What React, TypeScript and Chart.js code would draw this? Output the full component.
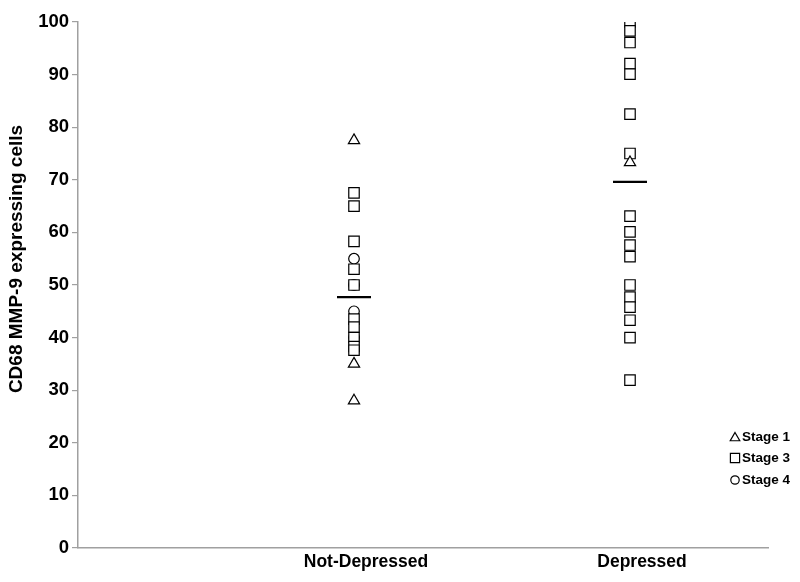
import React, { useEffect, useRef } from "react";
import { Chart, registerables } from "chart.js";
import { drawPoint } from "chart.js/helpers";

Chart.register(...registerables);

const categories = ["Not-Depressed", "Depressed"];
const categoryX = [1, 2];

const stage1NotDepressed = [77.5, 35, 28];
const stage1Depressed = [73.3];

const stage3NotDepressed = [67.5, 65, 58.3, 53, 50, 43.5, 42, 40, 38.3, 37.6];
const stage3Depressed = [100, 98.3, 96.1, 92.1, 90.1, 82.5, 75, 63.1, 60.1, 57.6, 55.4, 50, 47.7, 45.8, 43.3, 40, 31.9];

const stage4NotDepressed = [55, 50, 45, 40];
const stage4Depressed: number[] = [];

const meanValues = [47.7, 69.6];

const yTicks = [0, 10, 20, 30, 40, 50, 60, 70, 80, 90, 100];

const yTitle = "CD68 MMP-9 expressing cells";

const FONT = "'Liberation Sans', Arial, sans-serif";

function pts(x: number, vals: number[]) {
  return vals.map((v) => ({ x, y: v }));
}

const legendPlugin = {
  id: "customLegend",
  afterDraw(chart: any) {
    const ctx = chart.ctx;
    const items = [
      { label: "Stage 1", style: "triangle", r: 5.5, y: 437 },
      { label: "Stage 3", style: "rect", r: 6.5, y: 458 },
      { label: "Stage 4", style: "circle", r: 4.2, y: 480 },
    ];
    ctx.save();
    for (const it of items) {
      ctx.strokeStyle = "#000";
      ctx.fillStyle = "#fff";
      ctx.lineWidth = 1.2;
      drawPoint(ctx, { pointStyle: it.style, radius: it.r, rotation: 0, borderWidth: 1.2 } as any, 735, it.y + (it.style === "triangle" ? 1 : 0));
      ctx.fillStyle = "#000";
      ctx.font = `bold 13.5px ${FONT}`;
      ctx.textAlign = "left";
      ctx.textBaseline = "middle";
      ctx.fillText(it.label, 742, it.y);
    }
    // y-axis title (placed like the original, slightly above the axis centre)
    ctx.translate(17, 259);
    ctx.rotate(-Math.PI / 2);
    ctx.font = `bold 19px ${FONT}`;
    ctx.textAlign = "center";
    ctx.textBaseline = "middle";
    ctx.fillText(yTitle, 0, 0);
    ctx.restore();
  },
};

export default function App() {
  const ref = useRef<HTMLCanvasElement | null>(null);
  useEffect(() => {
    if (!ref.current) return;
    const chart = new Chart(ref.current, {
      type: "scatter",
      data: {
        datasets: [
          {
            label: "Stage 1",
            data: [...pts(categoryX[0], stage1NotDepressed), ...pts(categoryX[1], stage1Depressed)],
            pointStyle: "triangle",
            pointRadius: 6.5,
            backgroundColor: "#fff",
            borderColor: "#000",
            borderWidth: 1.2,
          },
          {
            label: "Stage 3",
            data: [...pts(categoryX[0], stage3NotDepressed), ...pts(categoryX[1], stage3Depressed)],
            pointStyle: "rect",
            pointRadius: 7.4,
            backgroundColor: "#fff",
            borderColor: "#000",
            borderWidth: 1.2,
          },
          {
            label: "Stage 4",
            data: [...pts(categoryX[0], stage4NotDepressed), ...pts(categoryX[1], stage4Depressed)],
            pointStyle: "circle",
            pointRadius: 5.3,
            backgroundColor: "rgba(255,255,255,0)",
            borderColor: "#000",
            borderWidth: 1.2,
          },
          {
            label: "Mean",
            data: categoryX.map((x, i) => ({ x, y: meanValues[i] })),
            pointStyle: "line",
            pointRadius: 17,
            borderColor: "#000",
            borderWidth: 2.2,
          },
        ],
      },
      plugins: [legendPlugin],
      options: {
        animation: false,
        responsive: true,
        maintainAspectRatio: false,
        layout: { padding: { top: 22, right: 32, left: 0, bottom: 0 } },
        plugins: { legend: { display: false }, tooltip: { enabled: false } },
        scales: {
          x: {
            type: "linear",
            min: 0,
            max: 2.5,
            afterFit: (s: any) => {
              s.height = 34;
            },
            afterBuildTicks: (s: any) => {
              s.ticks = categoryX.map((v) => ({ value: v }));
            },
            ticks: {
              callback: (v: any) => {
                const i = categoryX.indexOf(Number(v));
                return i >= 0 ? categories[i] : "";
              },
              labelOffset: 12,
              padding: 4,
              maxRotation: 0,
              autoSkip: false,
              color: "#000",
              font: { family: FONT, size: 17.5, weight: "bold" },
            },
            grid: { drawOnChartArea: false, drawTicks: false },
            border: { color: "#a0a0a0", width: 1.5 },
          },
          y: {
            min: 0,
            max: 100,
            afterFit: (s: any) => {
              s.width = 78;
            },
            afterBuildTicks: (s: any) => {
              s.ticks = yTicks.map((v) => ({ value: v }));
            },
            ticks: {
              padding: 3,
              color: "#000",
              font: { family: FONT, size: 18.5, weight: "bold" },
            },
            grid: { drawOnChartArea: false, drawTicks: true, tickLength: 6, color: "#a0a0a0", lineWidth: 1.2 },
            border: { color: "#a0a0a0", width: 1.5 },
          },
        },
      },
    });
    return () => chart.destroy();
  }, []);
  return (
    <div style={{ position: "absolute", left: 0, top: 0, width: 800, height: 582, background: "#fff" }}>
      <canvas ref={ref} />
    </div>
  );
}
